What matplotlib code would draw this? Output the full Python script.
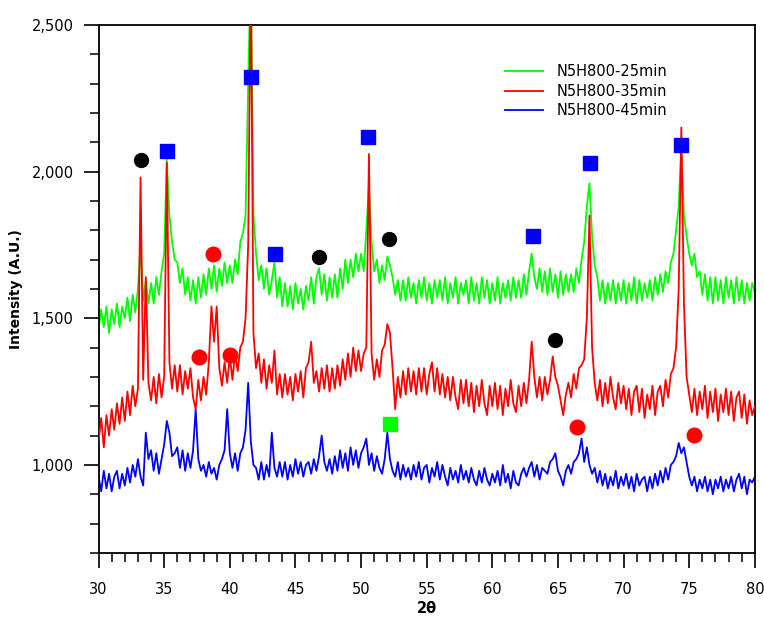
import numpy as np
import matplotlib
matplotlib.use("Agg")
import matplotlib.pyplot as plt
from matplotlib.ticker import MultipleLocator, FuncFormatter

# 2-theta grid, 0.2 deg step
two_theta = np.round(np.arange(30.0, 80.001, 0.2), 1)

green_25 = [
    1460, 1530, 1470, 1540, 1450, 1530, 1480, 1550, 1470, 1540,
    1500, 1570, 1490, 1580, 1520, 1600, 1750, 1560, 1630, 1550,
    1620, 1550, 1640, 1580, 1660, 1720, 2040, 1850, 1760, 1700,
    1690, 1620, 1670, 1580, 1640, 1560, 1630, 1550, 1640, 1570,
    1650, 1580, 1670, 1600, 1680, 1590, 1670, 1610, 1690, 1620,
    1680, 1620, 1700, 1650, 1760, 1790, 1850, 2300, 2700, 1850,
    1720, 1630, 1680, 1600, 1670, 1580, 1630, 1690, 1570, 1640,
    1540, 1620, 1540, 1610, 1530, 1620, 1550, 1600, 1530, 1610,
    1560, 1640, 1550, 1640, 1670, 1580, 1650, 1560, 1640, 1570,
    1650, 1570, 1670, 1600, 1700, 1620, 1700, 1640, 1720, 1660,
    1720, 1660, 1800, 1950, 1760, 1660, 1700, 1620, 1680, 1630,
    1710, 1680, 1640, 1580, 1630, 1560, 1630, 1560, 1640, 1570,
    1620, 1550, 1630, 1570, 1640, 1560, 1620, 1550, 1630, 1570,
    1630, 1560, 1640, 1550, 1620, 1570, 1640, 1550, 1620, 1580,
    1630, 1550, 1640, 1560, 1620, 1550, 1640, 1570, 1630, 1550,
    1620, 1560, 1640, 1550, 1620, 1570, 1630, 1560, 1640, 1570,
    1630, 1570, 1650, 1580, 1660, 1720, 1640, 1600, 1670, 1590,
    1660, 1580, 1670, 1590, 1650, 1570, 1660, 1580, 1650, 1590,
    1650, 1590, 1670, 1620, 1700, 1760, 1880, 1960, 1780, 1680,
    1640, 1560, 1630, 1550, 1620, 1560, 1630, 1550, 1620, 1560,
    1630, 1550, 1620, 1560, 1640, 1550, 1630, 1560, 1620, 1570,
    1630, 1560, 1640, 1580, 1650, 1590, 1660, 1620, 1690, 1720,
    1800, 1880, 2080, 1850, 1780, 1720, 1680, 1720, 1640, 1660,
    1580, 1650, 1560, 1640, 1550, 1640, 1560, 1630, 1550, 1640,
    1570, 1630, 1550, 1640, 1560, 1630, 1550, 1620, 1560, 1620,
    1590,
]

red_35 = [
    1080, 1160, 1060, 1170, 1100, 1190, 1120, 1210, 1140, 1230,
    1150, 1250, 1170, 1270, 1200, 1260, 1980, 1290, 1640, 1280,
    1220, 1300, 1210, 1310, 1230, 1300, 2030, 1350, 1260, 1340,
    1250, 1340, 1240, 1320, 1260, 1330, 1230, 1190, 1290, 1220,
    1300, 1240, 1350, 1540, 1420, 1540, 1330, 1270, 1350, 1280,
    1370, 1290, 1380, 1320, 1400, 1420, 1500, 1750, 2700, 1450,
    1330, 1380, 1280, 1360, 1260, 1340, 1280, 1390, 1240, 1310,
    1230, 1310, 1240, 1300, 1220, 1310, 1250, 1320, 1230, 1330,
    1350, 1420, 1280, 1320, 1250, 1330, 1260, 1340, 1250, 1330,
    1260, 1340, 1270, 1360, 1290, 1380, 1300, 1400, 1320, 1390,
    1320, 1380, 1400, 2060, 1380, 1290, 1360, 1300, 1390, 1410,
    1480, 1450, 1330, 1190, 1300, 1230, 1320, 1240, 1330, 1250,
    1320, 1240, 1330, 1250, 1330, 1240, 1310, 1350, 1250, 1330,
    1240, 1310, 1230, 1300, 1220, 1300, 1230, 1190, 1290, 1210,
    1290, 1200, 1280, 1180, 1270, 1200, 1290, 1210, 1170, 1270,
    1200, 1280, 1190, 1270, 1170, 1260, 1200, 1290, 1210, 1180,
    1270, 1200, 1280, 1210, 1290, 1420, 1300, 1230, 1300, 1220,
    1300, 1240, 1290, 1370, 1300, 1270, 1220, 1170, 1240, 1280,
    1230, 1310, 1260, 1330, 1340, 1360, 1500, 1850, 1400, 1280,
    1220, 1290, 1200, 1280, 1210, 1300, 1230, 1190, 1280, 1210,
    1270, 1190, 1260, 1170, 1250, 1270, 1180, 1260, 1160, 1240,
    1190, 1270, 1170, 1250, 1270, 1200, 1290, 1230, 1310, 1330,
    1400, 1600, 2150, 1550, 1300, 1240, 1180, 1260, 1170, 1250,
    1190, 1270, 1160, 1250, 1180, 1260, 1150, 1240, 1180, 1260,
    1170, 1250, 1150, 1230, 1250, 1160, 1240, 1140, 1220, 1170,
    1200,
]

blue_45 = [
    960, 910, 980, 920, 970, 910, 960, 980, 920, 970,
    930, 990, 940, 1000, 960, 1020, 960, 930, 1110, 1020,
    1050, 980, 1040, 970, 1020, 1070, 1150, 1110, 1030, 1040,
    1060, 990, 1050, 980, 1040, 990, 1050, 1190, 1020, 980,
    1000, 960, 1010, 970, 990, 950, 1000, 1020, 1050, 1190,
    1040, 990, 1040, 980, 1040, 1060, 1120, 1280, 1080, 1000,
    990, 950, 1010, 950, 1000, 960, 1110, 990, 960, 1010,
    960, 1010, 950, 1000, 960, 1020, 970, 1010, 960, 1000,
    1010, 970, 1020, 980, 1030, 1100, 1010, 980, 1020, 970,
    1030, 980, 1050, 990, 1040, 980, 1060, 1000, 1050, 990,
    1040, 1060, 1090, 1000, 1040, 980, 1030, 990, 970, 1020,
    1110, 1020, 980, 960, 1010, 950, 1000, 960, 990, 950,
    1000, 960, 1010, 950, 990, 1000, 940, 990, 960, 1010,
    950, 1000, 960, 930, 990, 950, 980, 940, 1000, 950,
    980, 940, 990, 950, 930, 980, 940, 990, 950, 930,
    970, 940, 980, 930, 1000, 940, 970, 920, 980, 940,
    930, 970, 990, 960, 990, 1010, 960, 1000, 950, 990,
    980, 970, 1010, 1020, 1040, 980, 960, 930, 980, 1000,
    970, 1010, 1020, 1040, 1090, 1010, 1060, 1000, 970, 990,
    940, 980, 930, 970, 920, 960, 930, 980, 920, 960,
    930, 970, 920, 960, 910, 970, 930, 950, 960, 910,
    960, 920, 970, 930, 980, 940, 990, 950, 1000, 1010,
    1030, 1075, 1040, 1060, 1010, 960, 930, 960, 910, 950,
    920, 960, 910, 950, 900, 950, 920, 960, 910, 950,
    920, 960, 910, 950, 970, 920, 960, 900, 950, 940,
    960,
]

labels = ["N5H800-25min", "N5H800-35min", "N5H800-45min"]

# phase markers
black_x = [33.24, 46.8, 52.1, 64.77]
black_y = [2040, 1709, 1770, 1426]
blue_sq_x = [35.2, 41.6, 43.44, 50.53, 63.08, 67.43, 74.37]
blue_sq_y = [2070, 2323, 1719, 2118, 1781, 2030, 2091]
red_x = [38.72, 37.65, 40.0, 66.44, 75.35]
red_y = [1719, 1368, 1375, 1129, 1102]
green_sq_x = [52.2]
green_sq_y = [1140]

fig = plt.figure(figsize=(7.64, 6.22), dpi=100)
ax = fig.add_axes([0.129, 0.111, 0.859, 0.849])

ax.plot(two_theta, green_25, color="#00ff00", lw=1.3, label=labels[0], zorder=2)
ax.plot(two_theta, red_35, color="#ff0000", lw=1.3, label=labels[1], zorder=3)
ax.plot(two_theta, blue_45, color="#0000ff", lw=1.3, label=labels[2], zorder=2)

ax.plot(black_x, black_y, "o", color="black", ms=10, ls="none", zorder=4)
ax.plot(blue_sq_x, blue_sq_y, "s", color="#0000ff", ms=9.5, ls="none", zorder=4)
ax.plot(red_x, red_y, "o", color="#ff0000", ms=10.5, ls="none", zorder=4)
ax.plot(green_sq_x, green_sq_y, "s", color="#00ff00", ms=9.5, ls="none", zorder=4)

ax.set_xlim(30, 80)
ax.set_ylim(700, 2500)
ax.xaxis.set_major_locator(MultipleLocator(5))
ax.xaxis.set_minor_locator(MultipleLocator(1))
ax.yaxis.set_major_locator(MultipleLocator(500))
ax.yaxis.set_minor_locator(MultipleLocator(100))
ax.yaxis.set_major_formatter(FuncFormatter(lambda v, p: f"{int(v):,}"))

ax.tick_params(which="major", direction="out", length=11, width=1.2, labelsize=10.5)
ax.tick_params(which="minor", direction="out", length=6.5, width=1.1)
ax.tick_params(axis="x", which="major", pad=10)
ax.tick_params(axis="y", which="major", pad=7)
for s in ax.spines.values():
    s.set_linewidth(1.3)

ax.set_xlabel("2θ", fontsize=10.5, fontweight="bold", labelpad=3)
ax.set_ylabel("Intensity (A.U.)", fontsize=10, fontweight="bold", labelpad=6)

ax.legend(loc="upper left", bbox_to_anchor=(0.6, 0.95), frameon=False,
          fontsize=10.5, handlelength=2.6, labelspacing=0.3, handletextpad=0.9)

fig.savefig("out.png", dpi=100)
